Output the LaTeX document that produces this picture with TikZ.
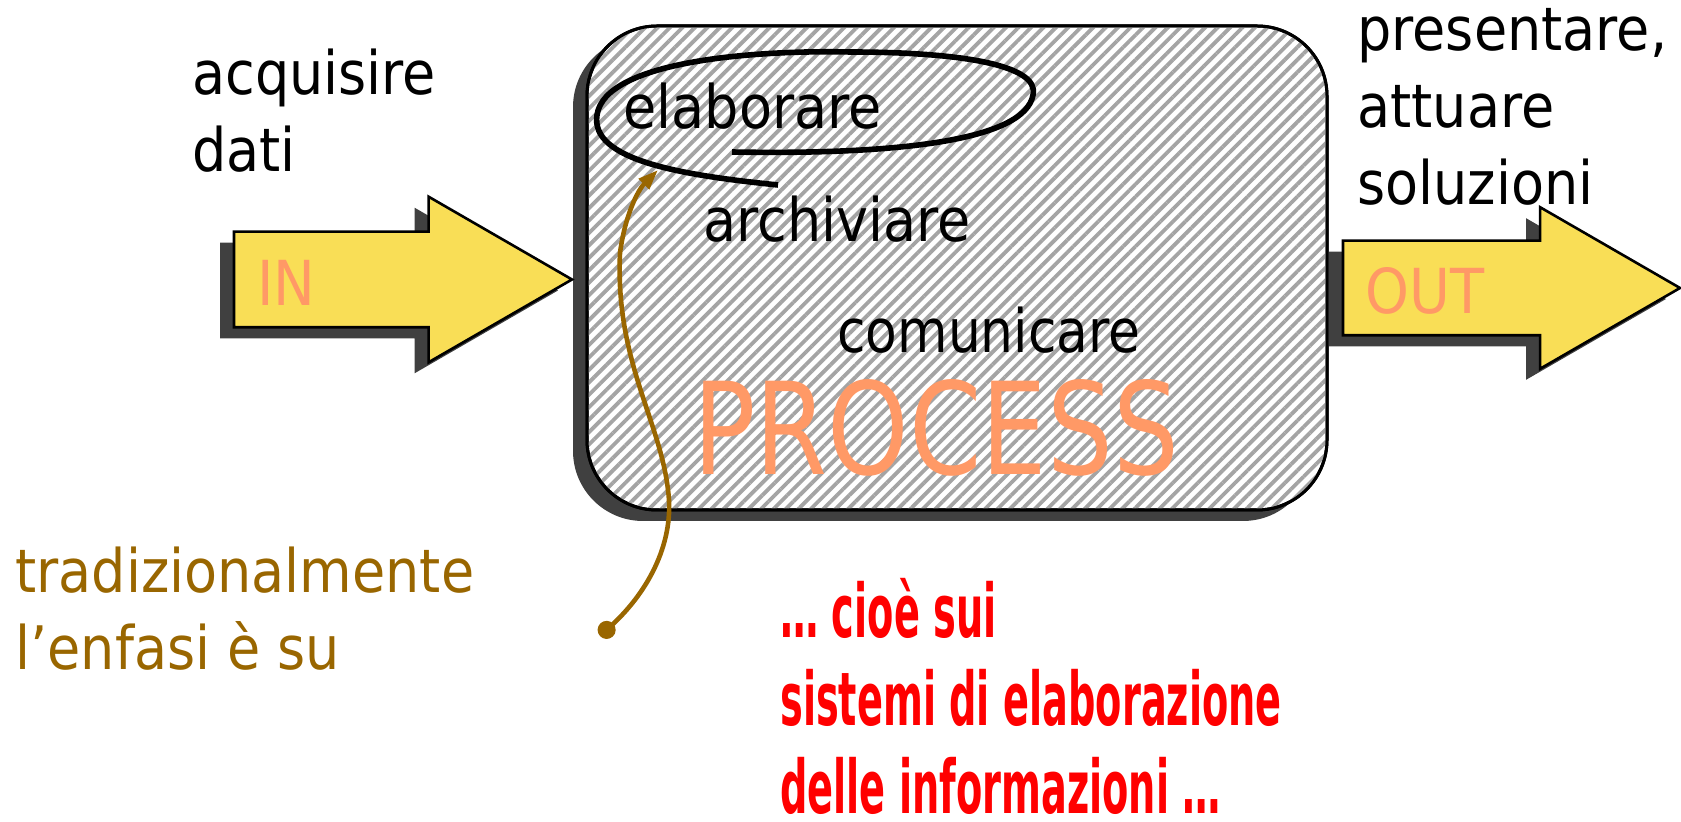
\documentclass[tikz,border=0pt]{standalone}
\usepackage{fontspec}
\setmainfont{DejaVu Sans}[FakeStretch=0.9]
\usetikzlibrary{arrows.meta,shapes.arrows,shadows,patterns.meta}

\definecolor{arrowyellow}{HTML}{F9DE56}
\definecolor{salmon}{HTML}{FF9966}
\definecolor{brownish}{HTML}{996600}
\definecolor{shadowgray}{HTML}{404040}
\definecolor{stripegray}{HTML}{A4A4A4}

\begin{document}
\begin{tikzpicture}[
x=0.5pt, y=-0.5pt,
  hardshadow/.style = {drop shadow={shadow xshift=-7pt, shadow yshift=-5.5pt,
                       fill=shadowgray, opacity=1}},
    bigarrow/.style = {single arrow, draw=black, line width=1.3pt,
                       fill=arrowyellow, inner xsep=0pt, outer sep=0pt,
                       single arrow tip angle=60, anchor=tail, hardshadow},
     procbox/.style = {rectangle, rounded corners=35pt, draw=black,
                       line width=1.5pt, fill=white, hardshadow,
                       minimum width=370pt, minimum height=242pt,
                       postaction={pattern={Lines[angle=45,distance=4.4pt,line width=1.9pt]},
                                   pattern color=stripegray},
                       postaction={draw=black, line width=1.5pt}},
         lbl/.style = {inner sep=0pt, anchor=base west, align=left,
                       font=\fontsize{30}{38.5}\selectfont},% base = last line
          io/.style = {lbl, text=salmon, font=\fontsize{31}{36}\selectfont},
                        ]
\useasboundingbox (0,0) rectangle (1681,822);
% the process box
\node[procbox] (proc) at (957,268) {};
% input and output arrows
\node[bigarrow, minimum height=169pt, inner ysep=23.25pt,
      single arrow head extend=17.5pt] (in) at (234,279.5) {};
\node[bigarrow, minimum height=168.5pt, inner ysep=23pt,
      single arrow head extend=16.75pt] (out) at (1343,288) {};
\node[io] (intxt) at ([xshift=11.5pt,yshift=-13.25pt]in.tail) {IN};
\node[io] (outtxt) at ([xshift=11pt,yshift=-13pt]out.tail) {OUT};
% texts
\node[lbl] (acq) at (192,172) {acquisire\\dati};
\node[lbl] (pres) at (1357,205) {presentare,\\attuare\\soluzioni};
\node[lbl] (elab) at (623,129) {elaborare};
\node[lbl] (arch) at (703,242) {archiviare};
\node[lbl, xscale=0.96, transform shape] (com) at (837,353) {comunicare};
\node[lbl, text=salmon, font=\fontsize{64}{70}\selectfont,
      xscale=0.9, transform shape] (ptxt) at (693,475) {PROCESS};
\node[lbl, text=brownish] (trad) at (15,670) {tradizionalmente\\l’enfasi è su};
\node[lbl, text=red, font=\fontsize{37}{44}\selectfont\bfseries,
      xscale=0.575, transform shape] (cioe) at (780,813)
      {… cioè sui\\sistemi di elaborazione\\delle informazioni …};
% loop round elaborare
\draw[line width=2.8pt] (778,185) .. controls (680,175) and (590,160) .. (597,115)
      .. controls (605,60) and (760,50) .. (850,52)
      .. controls (960,52) and (1040,65) .. (1033,95)
      .. controls (1025,140) and (900,155) .. (732,152);
% the emphasis pointer
\coordinate (dot) at (600,636);
\coordinate (tip) at (658,170);
\draw[brownish, line width=2.3pt, {Circle[length=9pt]}-{Triangle[length=10pt,width=7pt]}]
      (dot) .. controls (650,590) and (675,540) .. (668,490)
      .. controls (660,420) and (615,360) .. (620,253)
      .. controls (625,215) and (638,190) .. (tip);
\end{tikzpicture}
\end{document}
